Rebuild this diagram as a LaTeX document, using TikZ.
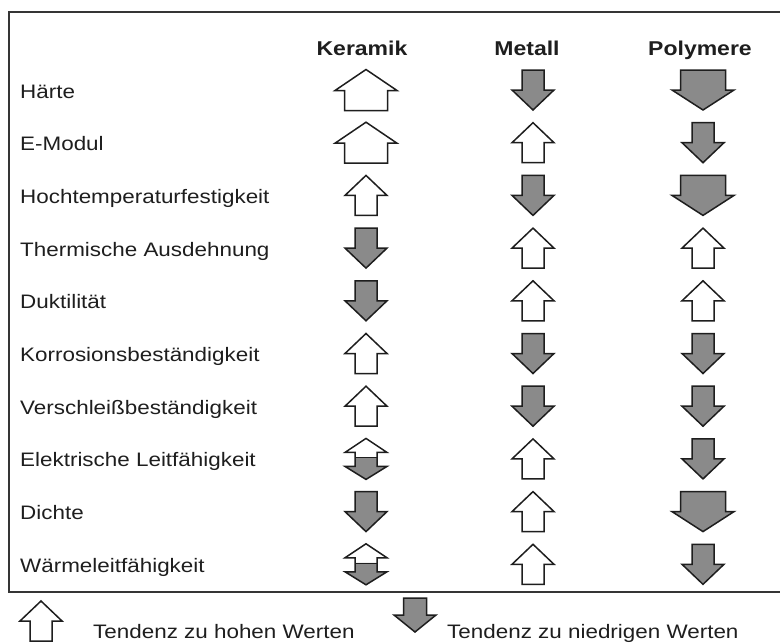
\documentclass[tikz,border=0pt]{standalone}
\usepackage{fontspec}
\setmainfont{Liberation Sans}[FakeStretch=1.15]
\definecolor{arrgray}{RGB}{138,138,138}
\definecolor{ink}{RGB}{30,30,30}
\tikzset{
  arr/.style={draw=ink, line width=1.5pt, line join=miter},
  lbl/.style={anchor=base west, inner sep=0pt, text=ink, font=\fontsize{19.5}{23}\selectfont},
  hdr/.style={anchor=base, inner sep=0pt, text=ink, font=\fontsize{20}{24}\selectfont\bfseries},
}
% up arrow: cx cy W S H HH fill
\newcommand\ArrUp[7]{%
  \draw[arr, fill=#7] ({#1},{#2-#5/2}) -- ({#1+#3/2},{#2-#5/2+#6}) -- ({#1+#4/2},{#2-#5/2+#6})
   -- ({#1+#4/2},{#2+#5/2}) -- ({#1-#4/2},{#2+#5/2}) -- ({#1-#4/2},{#2-#5/2+#6})
   -- ({#1-#3/2},{#2-#5/2+#6}) -- cycle;}
\newcommand\ArrDown[7]{%
  \draw[arr, fill=#7] ({#1},{#2+#5/2}) -- ({#1+#3/2},{#2+#5/2-#6}) -- ({#1+#4/2},{#2+#5/2-#6})
   -- ({#1+#4/2},{#2-#5/2}) -- ({#1-#4/2},{#2-#5/2}) -- ({#1-#4/2},{#2+#5/2-#6})
   -- ({#1-#3/2},{#2+#5/2-#6}) -- cycle;}
\newcommand\MU[2]{\ArrUp{#1}{#2}{42}{22}{40}{20}{white}}
\newcommand\MD[2]{\ArrDown{#1}{#2}{42}{22}{40}{20}{arrgray}}
\newcommand\BU[2]{\ArrUp{#1}{#2}{62}{43}{41}{21}{white}}
\newcommand\BD[2]{\ArrDown{#1}{#2}{62}{45}{40}{20}{arrgray}}
% double arrow, lower part filled
\newcommand\DB[2]{%
  \fill[arrgray] ({#1-11},{#2-20.5+19}) -- ({#1-11},{#2-20.5+28}) -- ({#1-21},{#2-20.5+28})
    -- ({#1},{#2+20.5}) -- ({#1+21},{#2-20.5+28}) -- ({#1+11},{#2-20.5+28}) -- ({#1+11},{#2-20.5+19}) -- cycle;
  \draw[arr] ({#1},{#2-20.5}) -- ({#1+21},{#2-20.5+14}) -- ({#1+11},{#2-20.5+14})
    -- ({#1+11},{#2-20.5+28}) -- ({#1+21},{#2-20.5+28}) -- ({#1},{#2+20.5})
    -- ({#1-21},{#2-20.5+28}) -- ({#1-11},{#2-20.5+28}) -- ({#1-11},{#2-20.5+14})
    -- ({#1-21},{#2-20.5+14}) -- cycle;
  \draw[draw=ink, line width=0.6pt] ({#1-11},{#2-20.5+19}) -- ({#1+11},{#2-20.5+19});}
\begin{document}
\begin{tikzpicture}[x=1pt,y=-1pt]
\useasboundingbox (0,0) rectangle (780,643);
\fill[white] (0,0) rectangle (780,643);
\draw[draw=ink!90, line width=2pt] (9,12) rectangle (790,592);
% headers
\node[hdr] (hK) at (362,55) {Keramik};
\node[hdr] (hM) at (527,55) {Metall};
\node[hdr] (hP) at (700,55) {Polymere};
% labels
\node[lbl] (l1) at (20,98) {Härte};
\node[lbl] (l2) at (20,150.7) {E-Modul};
\node[lbl] (l3) at (20,203.4) {Hochtemperaturfestigkeit};
\node[lbl] (l4) at (20,256.1) {Thermische Ausdehnung};
\node[lbl] (l5) at (20,308.8) {Duktilität};
\node[lbl] (l6) at (20,361.5) {Korrosionsbeständigkeit};
\node[lbl] (l7) at (20,414.2) {Verschleißbeständigkeit};
\node[lbl] (l8) at (20,466.9) {Elektrische Leitfähigkeit};
\node[lbl] (l9) at (20,519.6) {Dichte};
\node[lbl] (l10) at (20,572.3) {Wärmeleitfähigkeit};
% row 1 Härte
\BU{366}{90} \MD{533}{90} \BD{703}{90}
% row 2 E-Modul
\BU{366}{142.7} \MU{533}{142.7} \MD{703}{142.7}
% row 3
\MU{366}{195.4} \MD{533}{195.4} \BD{703}{195.4}
% row 4
\MD{366}{248.1} \MU{533}{248.1} \MU{703}{248.1}
% row 5
\MD{366}{300.8} \MU{533}{300.8} \MU{703}{300.8}
% row 6
\MU{366}{353.5} \MD{533}{353.5} \MD{703}{353.5}
% row 7
\MU{366}{406.2} \MD{533}{406.2} \MD{703}{406.2}
% row 8
\DB{366}{458.9} \MU{533}{458.9} \MD{703}{458.9}
% row 9
\MD{366}{511.6} \MU{533}{511.6} \BD{703}{511.6}
% row 10
\DB{366}{564.3} \MU{533}{564.3} \MD{703}{564.3}
% legend
\ArrUp{41}{621}{42}{22}{40}{20}{white}
\node[lbl] (t1) at (93,638) {Tendenz zu hohen Werten};
\ArrDown{415}{615}{42}{23}{34}{17}{arrgray}
\node[lbl] (t2) at (447,638) {Tendenz zu niedrigen Werten};
\end{tikzpicture}
\end{document}
